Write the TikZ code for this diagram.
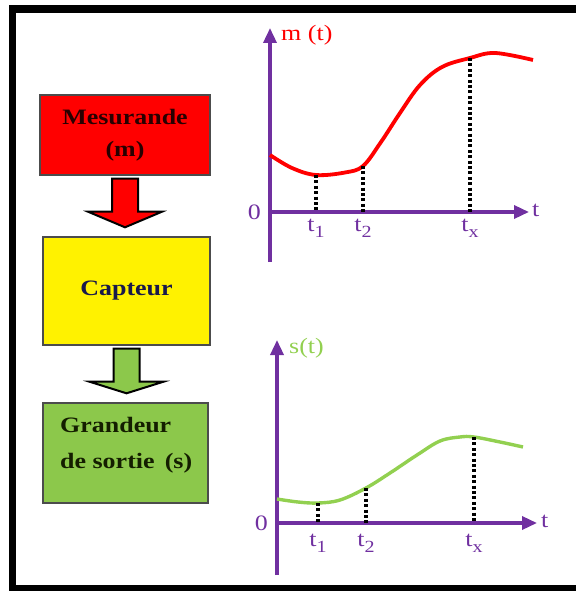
\documentclass[tikz,border=0pt]{standalone}
\usepackage{fontspec}
\setmainfont[FakeStretch=1.18]{Liberation Serif}
\usetikzlibrary{positioning,arrows.meta,calc}
\definecolor{axpurple}{RGB}{112,48,160}
\definecolor{crvgreen}{RGB}{146,208,80}
\definecolor{boxgreen}{RGB}{140,200,75}
\definecolor{txtred}{RGB}{40,0,0}
\definecolor{txtblue}{RGB}{25,25,75}
\definecolor{txtgreen}{RGB}{20,30,0}
\tikzset{
  blk/.style={draw=black!70,line width=1.4pt,inner sep=0pt,align=center,
    font=\fontsize{22}{32}\selectfont\bfseries},
  blktxt/.style={inner sep=0pt,align=left,font=\fontsize{22}{36}\selectfont\bfseries},
  barrow/.style={draw=black,line width=2pt,line join=miter},
  ax/.style={axpurple,line width=3.4pt,-{Triangle[length=15pt,width=13pt]}},
  axlbl/.style={axpurple,font=\fontsize{22}{22}\selectfont,inner sep=1pt},
  crvlbl/.style={font=\fontsize{22}{22}\selectfont,inner sep=1pt},
  drop/.style={line width=3.2pt,dash pattern=on 3pt off 2.4pt},
  frame/.style={line width=7.5pt},
}
% t with a lowered index
\newcommand\tsub[1]{t\raisebox{-6pt}{\fontsize{17}{17}\selectfont #1}}
% block arrow from one box down to the next
\newcommand\blkarrow[3]{%
  \draw[barrow,fill=#3] ($(#1.south)+(-13,3)$) -- ($(#1.south)+(13,3)$)
    -- ($(#1.south)+(13,36)$) -- ($(#1.south)+(37,36)$) -- ($(#1.south |- #2.north)+(0,-9)$)
    -- ($(#1.south)+(-37,36)$) -- ($(#1.south)+(-13,36)$) -- cycle;}

\begin{document}
\begin{tikzpicture}[x=1pt,y=-1pt]
  \useasboundingbox (0,0) rectangle (575,591);
  \draw[frame] (590,9) -- (12.5,9) -- (12.5,588.5) -- (590,588.5);

  % chain of boxes
  \node[blk,fill=red,text=txtred,minimum width=170,minimum height=80] (mes) at (125,135) {Mesurande\\(m)};
  \node[blk,fill=yellow,text=txtblue,minimum width=167,minimum height=108] (cap) at (126.5,291) {Capteur};
  \node[blk,fill=boxgreen,minimum width=165,minimum height=100] (gra) at (125.5,453) {};
  \node[blktxt,text=txtgreen,anchor=west] (gratxt) at (60,445) {Grandeur\\de sortie\, (s)};
  \blkarrow{mes}{cap}{red}
  \blkarrow{cap}{gra}{boxgreen}

  % m(t)
  \coordinate (mO) at (270,212);
  \coordinate (mB) at (270,262);
  \coordinate (mY) at (270,28);
  \coordinate (mX) at (529,212);
  \coordinate (m1) at (316,175);
  \coordinate (m2) at (363,166);
  \coordinate (mx) at (470,58);
  \draw[ax] (mB) -- (mY);
  \draw[ax] (mO) -- (mX);
  \node[crvlbl,text=red,anchor=west] (mlbl) at (280,35) {m (t)};
  \node[axlbl,anchor=east] (m0) at (262,212) {0};
  \node[axlbl,anchor=west] (mt) at (531,210) {t};
  \draw[red,line width=3.8pt] plot[smooth,tension=0.6] coordinates
    {(270,155) (292,168) (m1) (345,172.5) (m2) (381,142) (400,113) (420,85) (442,67) (mx) (495,53) (533,60)};
  \foreach \p/\q in {m1/1,m2/2,mx/x}{
    \draw[drop] (\p) -- (\p |- mO);
    \node[axlbl,below=6pt] (\p lbl) at (\p |- mO) {\tsub{\q}};
  }

  % s(t)
  \coordinate (sO) at (277,523);
  \coordinate (sB) at (277,575);
  \coordinate (sY) at (277,340);
  \coordinate (sX) at (537,523);
  \coordinate (s1) at (318,503);
  \coordinate (s2) at (366,488);
  \coordinate (sx) at (474,437);
  \draw[ax] (sB) -- (sY);
  \draw[ax] (sO) -- (sX);
  \node[crvlbl,text=crvgreen,anchor=west] (slbl) at (288,348) {s(t)};
  \node[axlbl,anchor=east] (s0) at (269,523) {0};
  \node[axlbl,anchor=west] (st) at (540,521) {t};
  \draw[crvgreen,line width=3.4pt] plot[smooth,tension=0.6] coordinates
    {(277,499) (298,502) (s1) (340,500) (s2) (390,473) (417,455) (440,441) (460,437) (sx) (500,442) (523,447)};
  \foreach \p/\q in {s1/1,s2/2,sx/x}{
    \draw[drop] (\p) -- (\p |- sO);
    \node[axlbl,below=10pt] (\p lbl) at (\p |- sO) {\tsub{\q}};
  }
\end{tikzpicture}
\end{document}
